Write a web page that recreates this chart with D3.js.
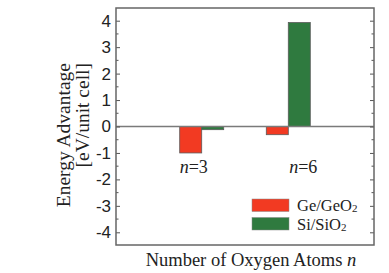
<!DOCTYPE html>
<html>
<head>
<meta charset="utf-8">
<script src="https://cdn.jsdelivr.net/npm/d3@7"></script>
<style>
  body { margin: 0; background: #fff; }
  svg { display: block; font-family: "Liberation Serif", "Times New Roman", serif; }
</style>
</head>
<body>
<div id="chart"></div>
<script>
// data
const categories = ["3", "6"];
const series = ["Ge/GeO2", "Si/SiO2"];
const geValues = [-1.0, -0.31];
const siValues = [-0.12, 3.93];
const yTicks = [-4, -3, -2, -1, 0, 1, 2, 3, 4];

const colors = { "Ge/GeO2": "#f23a22", "Si/SiO2": "#2f7a3f" };

const width = 389, height = 273;
const margin = { left: 116, right: 15, top: 8, bottom: 28 };

let svg = d3.select("#chart").append("svg")
    .attr("width", width)
    .attr("height", height);

let x0 = d3.scalePoint()
    .domain(categories)
    .range([margin.left, width - margin.right])
    .padding(0.99);

let x1 = d3.scaleBand()
    .domain(series)
    .range([-22, 22]);

let y = d3.scaleLinear()
    .domain([-4.48, 4.48])
    .range([height - margin.bottom, margin.top]);

// rows: one per category with both values
let rows = categories.map((c, i) => ({
    cat: c,
    vals: [
        { key: "Ge/GeO2", v: geValues[i] },
        { key: "Si/SiO2", v: siValues[i] }
    ]
}));

// bars
let groups = svg.selectAll("g.cat")
    .data(rows)
    .join("g")
    .attr("class", "cat")
    .attr("transform", d => "translate(" + x0(d.cat) + ",0)");

groups.selectAll("rect")
    .data(d => d.vals)
    .join("rect")
    .attr("x", d => x1(d.key))
    .attr("width", x1.bandwidth())
    .attr("y", d => y(Math.max(0, d.v)))
    .attr("height", d => Math.abs(y(d.v) - y(0)))
    .attr("fill", d => colors[d.key])
    .attr("stroke", "#5a5a5a")
    .attr("stroke-width", 0.8);

// zero line
svg.append("line")
    .attr("x1", margin.left).attr("x2", width - margin.right)
    .attr("y1", y(0)).attr("y2", y(0))
    .attr("stroke", "#7a7a7a")
    .attr("stroke-width", 1.3);

// left axis, ticks inward
let minorTicks = d3.range(-4.5, 4.51, 0.5).filter(t => !Number.isInteger(t));

let leftAxis = d3.axisLeft(y)
    .tickValues(yTicks)
    .tickSize(-4)
    .tickPadding(5)
    .tickFormat(d3.format("d"));

let gl = svg.append("g")
    .attr("transform", "translate(" + margin.left + ",0)")
    .call(leftAxis);
gl.select(".domain").remove();
gl.selectAll(".tick line").attr("stroke", "#555").attr("stroke-width", 1);
gl.selectAll(".tick text")
    .attr("font-size", 17)
    .attr("fill", "#222")
    .text(d => d < 0 ? "-" + Math.abs(d) : d);

svg.append("g")
    .attr("transform", "translate(" + margin.left + ",0)")
    .selectAll("line")
    .data(minorTicks.filter(t => t > -4.48 && t < 4.48))
    .join("line")
    .attr("x1", 0).attr("x2", 2.5)
    .attr("y1", d => y(d)).attr("y2", d => y(d))
    .attr("stroke", "#555");

// right axis, ticks inward, no labels
let gr = svg.append("g")
    .attr("transform", "translate(" + (width - margin.right) + ",0)")
    .call(d3.axisRight(y).tickValues(yTicks).tickSize(-4).tickFormat(""));
gr.select(".domain").remove();
gr.selectAll(".tick line").attr("stroke", "#555");

svg.append("g")
    .attr("transform", "translate(" + (width - margin.right) + ",0)")
    .selectAll("line")
    .data(minorTicks.filter(t => t > -4.48 && t < 4.48))
    .join("line")
    .attr("x1", 0).attr("x2", -2.5)
    .attr("y1", d => y(d)).attr("y2", d => y(d))
    .attr("stroke", "#555");

// frame
svg.append("rect")
    .attr("x", margin.left)
    .attr("y", margin.top)
    .attr("width", width - margin.left - margin.right)
    .attr("height", height - margin.top - margin.bottom)
    .attr("fill", "none")
    .attr("stroke", "#666")
    .attr("stroke-width", 1.5);

// category labels n=3, n=6
let labelShift = [-8, 15];
categories.forEach((c, i) => {
    let t = svg.append("text")
        .attr("x", x0(c) + labelShift[i])
        .attr("y", 173)
        .attr("text-anchor", "middle")
        .attr("font-size", 18)
        .attr("fill", "#222");
    t.append("tspan").attr("font-style", "italic").text("n");
    t.append("tspan").text("=" + c);
});

// legend
let legend = svg.append("g");
series.forEach((s, i) => {
    let ly = 199 + i * 18.5;
    legend.append("rect")
        .attr("x", 252).attr("y", ly)
        .attr("width", 37).attr("height", 12.5)
        .attr("fill", colors[s])
        .attr("stroke", "#888")
        .attr("stroke-width", 0.5);
    let parts = s.split("2");
    let t = legend.append("text")
        .attr("x", 297)
        .attr("y", ly + 12)
        .attr("font-size", 16.5)
        .attr("fill", "#222");
    t.append("tspan").text(parts[0]);
    t.append("tspan").attr("font-size", 11).attr("dy", 1).text("2");
});

// axis titles
svg.append("text")
    .attr("x", (margin.left + width - margin.right) / 2 + 6)
    .attr("y", 266)
    .attr("text-anchor", "middle")
    .attr("font-size", 18.5)
    .attr("fill", "#222")
    .call(t => {
        t.append("tspan").text("Number of Oxygen Atoms ");
        t.append("tspan").attr("font-style", "italic").text("n");
    });

let yTitle = svg.append("text")
    .attr("transform", "translate(70,63) rotate(-90)")
    .attr("text-anchor", "end")
    .attr("font-size", 19.5)
    .attr("fill", "#222");
yTitle.append("tspan").attr("x", 0).attr("y", 0).text("Energy Advantage");
yTitle.append("tspan").attr("x", 0).attr("y", 19).text("[eV/unit cell]");
</script>
</body>
</html>
